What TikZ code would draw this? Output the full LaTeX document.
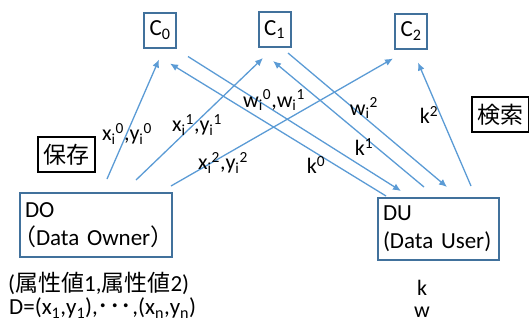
\documentclass[tikz,border=0pt]{standalone}
\usepackage{fontspec}
\setmainfont{Carlito}
\newfontfamily\jp{Noto Sans CJK JP}
\usetikzlibrary{arrows.meta}
\definecolor{boxblue}{HTML}{41719C}
\definecolor{arrblue}{HTML}{5B9BD5}
\newcommand\mysb[1]{\textsubscript{#1}}
\newcommand\mysp[1]{\textsuperscript{#1}}
\begin{document}
\begin{tikzpicture}[x=1pt,y=-1pt,
  font=\fontsize{23}{28}\selectfont,
  cbox/.style={draw=boxblue,line width=2pt,minimum width=32pt,minimum height=35pt,inner sep=0pt},
  kbox/.style={draw=black,line width=2pt,minimum width=57pt,minimum height=35pt,inner sep=0pt},
  pbox/.style={draw=boxblue,line width=2pt,align=left,inner xsep=2pt,inner ysep=0pt},
  arr/.style={draw=arrblue,line width=1.3pt,-{Latex[length=8pt,width=7pt]}},
  lbl/.style={inner sep=0pt,font=\fontsize{22}{24}\selectfont}]
\useasboundingbox (0,0) rectangle (529,322);
\node[cbox] (C0) at (160,30) {C\mysb{0}};
\node[cbox] (C1) at (274.5,29.5) {C\mysb{1}};
\node[cbox] (C2) at (411,31) {C\mysb{2}};
\node[kbox] (hozon) at (66,154.5) {\jp 保存};
\node[kbox] (kensaku) at (500.5,114.5) {\jp 検索};
\node[pbox,minimum width=152pt,minimum height=64pt,text width=148pt] (DO) at (96,225) {\hspace*{3pt}DO\\\hspace*{-9pt}\mbox{{\jp （}Data Owner{\jp ）}}};
\node[pbox,minimum width=121pt,minimum height=62pt,text width=117pt] (DU) at (438.5,229) {\hspace*{3pt}DU\\\hspace*{3pt}\mbox{(Data User)}};
% arrows DO -> C
\draw[arr] ([shift={(88,-13)}]DO.north west) -- ([shift={(-1,11)}]C0.south);
\draw[arr] ([shift={(117,-12)}]DO.north west) -- ([shift={(-11.5,10)}]C1.south);
\draw[arr] ([shift={(152,-6)}]DO.north west) -- ([shift={(-18,9)}]C2.south);
% arrows DU <-> C
\draw[arr] ([shift={(9,-1)}]DU.north west) -- ([shift={(10,15)}]C0.south);
\draw[arr] ([shift={(28,8)}]C0.south) -- ([shift={(24,-6)}]DU.north west);
\draw[arr] ([shift={(47,-10)}]DU.north west) -- ([shift={(-1.5,13)}]C1.south);
\draw[arr] ([shift={(13.5,5)}]C1.south) -- ([shift={(70,-10)}]DU.north west);
\draw[arr] ([shift={(94,-11)}]DU.north west) -- ([shift={(7,13)}]C2.south);
% labels
\node[lbl] (l1) at (127,134) {x\mysb{i}\mysp{0},y\mysb{i}\mysp{0}};
\node[lbl] (l2) at (197,125) {x\mysb{i}\mysp{1},y\mysb{i}\mysp{1}};
\node[lbl] (l3) at (223,163) {x\mysb{i}\mysp{2},y\mysb{i}\mysp{2}};
\node[lbl] (l4) at (274,100) {w\mysb{i}\mysp{0},w\mysb{i}\mysp{1}};
\node[lbl] (l5) at (316,165) {k\mysp{0}};
\node[lbl] (l6) at (364,108) {w\mysb{i}\mysp{2}};
\node[lbl] (l7) at (364,147) {k\mysp{1}};
\node[lbl] (l8) at (429,115) {k\mysp{2}};
\node[lbl,anchor=west,font=\fontsize{23}{26}\selectfont] (attr) at (8,283) {({\jp 属性値}1,{\jp 属性値}2)};
\node[lbl,anchor=west,font=\fontsize{23}{26}\selectfont] (data) at (9,308) {D=(x\mysb{1},y\mysb{1}),{\jp ･･･},(x\mysb{n},y\mysb{n})};
\node[lbl] (k) at (422,288) {k};
\node[lbl] (w) at (422,312) {w};
\end{tikzpicture}
\end{document}
